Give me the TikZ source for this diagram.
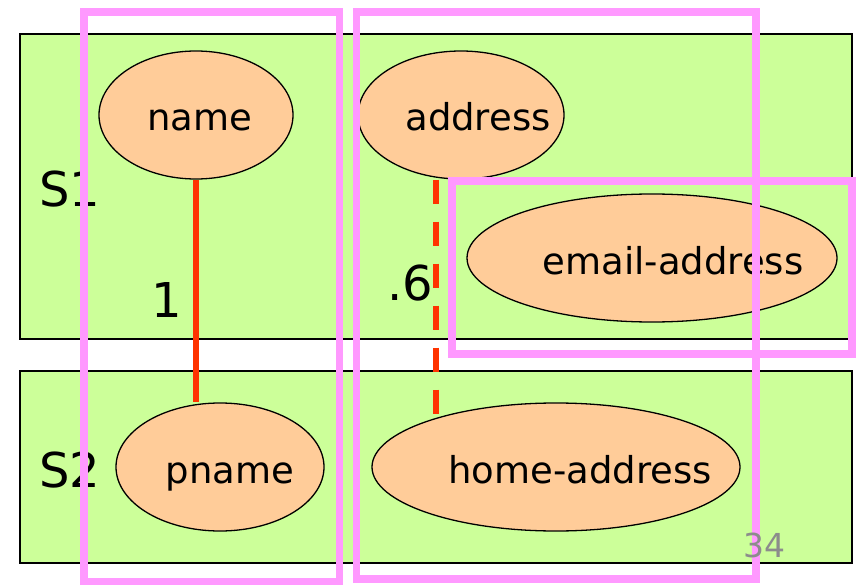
\documentclass[tikz,border=0pt]{standalone}
\usepackage{fontspec}
\setmainfont{DejaVu Sans}
\usepackage{tikz}
\usetikzlibrary{shapes.geometric, positioning, calc}

\definecolor{schgreen}{HTML}{CCFF99}
\definecolor{entorange}{HTML}{FFCC99}
\definecolor{grppink}{HTML}{FF99FF}
\definecolor{lnkred}{HTML}{FF3300}

% text pushed right inside its ellipse by half of #1
\newcommand{\offlbl}[2]{\makebox[0pt]{\hspace*{#1}#2}}

\begin{document}
\begin{tikzpicture}[
  x=1pt, y=-1pt,
  sch/.style={draw, line width=1.5pt, fill=schgreen},
  ent/.style={ellipse, draw, line width=1.3pt, fill=entorange, inner sep=0pt, minimum height=128pt,
    text height=32pt, text depth=0pt, font=\fontsize{37}{40}\selectfont},
  big/.style={font=\fontsize{48}{52}\selectfont, anchor=base},
  grp/.style={draw=grppink, line width=7.5pt},
  lnk/.style={draw=lnkred, line width=6pt}
]
\useasboundingbox (0,0) rectangle (856,585);

% schemas
\draw[sch] (20,34) rectangle (852,339);
\draw[sch] (20,371) rectangle (852,563);

% elements
\node[ent, minimum width=194pt] (name) at (196,115) {\offlbl{8pt}{name}};
\node[ent, minimum width=206pt] (address) at (461,115) {\offlbl{34pt}{address}};
\node[ent, minimum width=370pt] (email) at (652,258) {\offlbl{42pt}{email-address}};
\node[ent, minimum width=208pt] (pname) at (220,467) {\offlbl{20pt}{pname}};
\node[ent, minimum width=368pt] (home) at (556,467) {\offlbl{48pt}{home-address}};

% correspondences
\draw[lnk] (name.south) -- (name.south |- pname.north);
\draw[lnk, dash pattern=on 24pt off 18pt] ([xshift=-25pt]address.south) -- ++(0,234);

\node[big] (s1) at (70,207) {S1};
\node[big] (s2) at (70,487) {S2};
\node[big] (one) at (167,317) {1};
\node[big] (sixth) at (410,300) {.6};

% groupings
\draw[grp] (84,12) rectangle (339.5,582);
\draw[grp] (356.5,12) rectangle (756,579);
\draw[grp] (452,181) rectangle (852,354);

\node[anchor=base, text=black!45, font=\fontsize{33}{36}\selectfont] (page) at (764,557) {34};
\end{tikzpicture}
\end{document}
